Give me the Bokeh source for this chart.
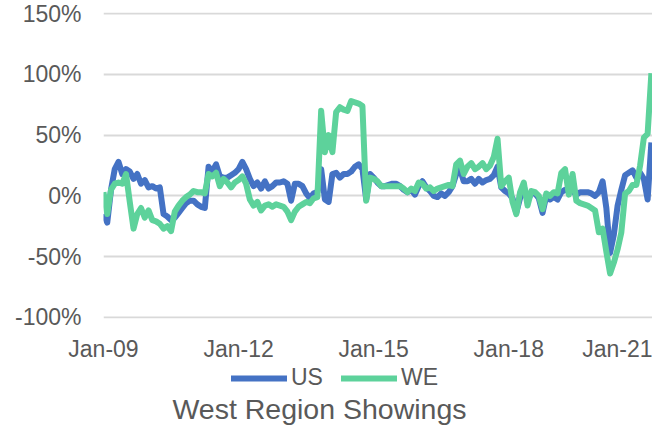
from bokeh.plotting import figure
from bokeh.models import Range1d, FixedTicker, Legend, Label
from bokeh.layouts import column
from bokeh.embed import file_html
from bokeh.resources import INLINE

# Monthly YoY change (%), Jan-2009 .. Mar-2021
us = [
    -15, -22, 5, 22, 28, 18, 22, 20, 14, 18, 10, 13,
    7, 8, 6, 7, -15, -17, -20, -18, -14, -10, -6, -4,
    -4, -7, -9, -10, 24, 20, 26, 16, 15, 15, 17, 19,
    22, 28, 22, 14, 8, 11, 6, 12, 6, 8, 11, 11,
    12, 10, -4, 10, 10, 8, 2, -2, 2, 3, 22, -3,
    -5, 18, 19, 15, 18, 18, 20, 24, 26, 22, -3, 18,
    15, 11, 8, 8, 9, 10, 10, 8, 5, 3, 5, 1,
    8, 12, 7, 4, 0, -1, 2, 0, 3, 8, 18, 22,
    12, 12, 14, 10, 14, 11, 13, 14, 17, 24, 7, 4,
    2, -2, -14, -2, 8, -4, 2, 2, -2, -14, 0, -3,
    -1, -3, 3, 5, 4, 4, 1, 3, 3, 3, 2, 0,
    3, 12, -10, -47, -32, -8, 5, 17, 19, 21, 15, 19,
    14, -3, 44,
]
we = [
    3, -15, 5, 10, 11, 10, 18, -5, -27, -15, -10, -18,
    -12, -20, -21, -23, -27, -25, -29, -13, -8, -4, -1, 1,
    4, 3, 3, 2, 18, 16, 19, 8, 14, 11, 7, 11,
    13, 16, 10, -3, -8, -5, -12, -8, -7, -9, -7, -8,
    -9, -13, -20, -13, -9, -7, -5, -6, -2, -1, 70, 36,
    50, 36, 69, 73, 71, 70, 78, 77, 76, 74, -4, 15,
    14, 12, 8, 8, 8, 8, 8, 8, 6, 3, 6, 4,
    11, 10, 6, 7, 4, 6, 7, 8, 9, 8, 26, 29,
    18, 24, 27, 22, 24, 27, 22, 25, 32, 47, 8, 12,
    15, -5, -15, 3, 11, -8, 4, 3, 0, -11, 2, 0,
    3, 2, 19, 22, 1, 18, -4, -6, -7, -8, -10, -12,
    -30, -27, -46, -64, -55, -44, -30, 2, 4, 9, 9, 25,
    48, 51, 101,
]
months = list(range(len(us)))

x_tick_pos = [0, 36, 72, 108, 144]
x_tick_labels = ["Jan-09", "Jan-12", "Jan-15", "Jan-18", "Jan-21"]
y_ticks = [-100, -50, 0, 50, 100, 150]
y_tick_labels = ["-100%", "-50%", "0%", "50%", "100%", "150%"]
series_names = ["US", "WE"]
title_text = "West Region Showings"

FONT = "Liberation Sans"
TXT = "#595959"
C_US = "#4472C4"
C_WE = "#5DD29B"
LW = 6

# ---- main plot ----
p = figure(width=652, height=364, output_backend="svg", toolbar_location=None,
           x_range=Range1d(0, 146.3), y_range=Range1d(-101, 151),
           min_border_left=103, min_border_right=0, min_border_top=12,
           min_border_bottom=43)
p.outline_line_color = None
p.border_fill_color = "white"

r_us = p.line(months, us, line_color=C_US, line_width=LW, line_join="round")
r_we = p.line(months, we, line_color=C_WE, line_width=LW, line_join="round")

p.xaxis.ticker = FixedTicker(ticks=x_tick_pos)
p.xaxis.major_label_overrides = dict(zip(x_tick_pos, x_tick_labels))
p.yaxis.ticker = FixedTicker(ticks=y_ticks)
p.yaxis.major_label_overrides = dict(zip(y_ticks, y_tick_labels))
for ax in (p.xaxis, p.yaxis):
    ax.axis_line_color = None
    ax.major_tick_line_color = None
    ax.minor_tick_line_color = None
    ax.major_tick_out = 0
    ax.major_tick_in = 0
    ax.minor_tick_out = 0
    ax.minor_tick_in = 0
    ax.major_label_text_font = FONT
    ax.major_label_text_font_size = "23px"
    ax.major_label_text_color = TXT
p.xaxis.major_label_standoff = 17
p.yaxis.major_label_standoff = 22

p.xgrid.grid_line_color = None
p.ygrid.ticker = FixedTicker(ticks=y_ticks)
p.ygrid.grid_line_color = "#d9d9d9"
p.ygrid.grid_line_width = 2

# ---- legend + title strip (frame aligns with the plot frame above) ----
H2 = 64
p2 = figure(width=652, height=H2, output_backend="svg", toolbar_location=None,
            x_range=Range1d(0, 1), y_range=Range1d(0, 1),
            min_border=0, x_axis_location=None, y_axis_location=None)
p2.outline_line_color = None
p2.grid.visible = False
p2.border_fill_color = "white"
nan = float("nan")
d_us = p2.line([0], [nan], line_color=C_US, line_width=LW, line_cap="round")
d_we = p2.line([0], [nan], line_color=C_WE, line_width=LW, line_cap="round")

legend = Legend(items=[(series_names[0], [d_us]), (series_names[1], [d_we])],
                location=(128, 37), orientation="horizontal",
                glyph_width=56, glyph_height=20, label_standoff=4, spacing=18,
                padding=0, margin=0, border_line_color=None,
                background_fill_alpha=0,
                label_text_font=FONT, label_text_font_size="23px",
                label_text_color=TXT)
p2.add_layout(legend)

title = Label(x=216, y=20, x_units="screen", y_units="screen", text=title_text,
              text_align="center", text_baseline="middle", text_font=FONT,
              text_font_size="28.5px", text_color=TXT)
p2.add_layout(title)

layout = column(p, p2, spacing=0)
open("out.html", "w").write(file_html(layout, INLINE))
